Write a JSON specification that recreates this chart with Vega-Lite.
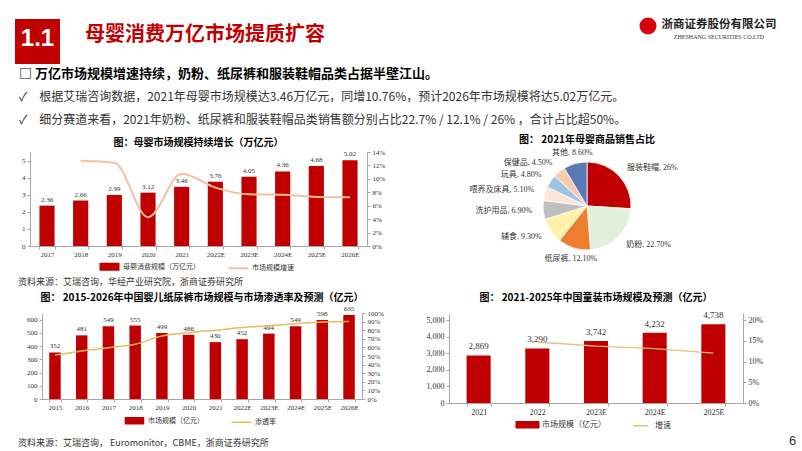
{
  "$schema": "https://vega.github.io/schema/vega-lite/v6.json",
  "padding": {"left": 15, "top": 17, "right": 5, "bottom": 0},
  "background": "white",
  "config": {
    "view": {"stroke": null},
    "font": "Noto Sans CJK SC",
    "title": {"font": "Noto Sans CJK SC", "fontSize": 10, "fontWeight": "bold", "color": "#000000", "offset": 2},
    "axis": {"labelFont": "Liberation Serif", "labelFontSize": 7, "labelColor": "#333333", "domainColor": "#A6A6A6", "tickColor": "#A6A6A6", "tickSize": 3, "grid": false, "labelPadding": 2},
    "axisX": {"labelAngle": 0, "tickBand": "extent", "labelPadding": 1},
    "axisY": {"labelOverlap": false},
    "legend": {"labelFont": "Noto Sans CJK SC", "labelFontSize": 7, "labelColor": "#333333", "orient": "bottom", "direction": "horizontal", "layout": {"bottom": {"anchor": "middle"}}},
    "text": {"font": "Liberation Serif"}
  },
  "resolve": {"scale": {"color": "independent"}, "legend": {"color": "independent"}},
  "columns": 1,
  "spacing": 4,
  "concat": [
    {
      "columns": 5,
      "spacing": 0,
      "concat": [
        {
          "width": 45, "height": 45,
          "data": {"values": [{"t": "1.1"}]},
          "layer": [
            {"mark": {"type": "rect", "color": "#C00000"}, "encoding": {}},
            {"mark": {"type": "text", "color": "#ffffff", "font": "Liberation Sans", "fontSize": 24, "fontWeight": "bold", "dy": -3}, "encoding": {"text": {"field": "t"}}}
          ]
        },
        {
          "width": 290, "height": 45,
          "data": {"values": [{"t": "母婴消费万亿市场提质扩容"}]},
          "mark": {"type": "text", "color": "#C00000", "font": "Noto Sans CJK SC", "fontSize": 20, "fontWeight": "bold", "dy": -7},
          "encoding": {"text": {"field": "t"}}
        },
        {
          "width": 289, "height": 1,
          "data": {"values": []},
          "mark": "text",
          "encoding": {}
        },
        {
          "width": 18, "height": 14,
          "data": {"values": [{"t": "logo"}]},
          "mark": {"type": "point", "filled": true, "color": "#D7000F", "size": 289, "opacity": 1},
          "encoding": {}
        },
        {
          "width": 124, "height": 24,
          "data": {"values": [{"t": "浙商证券股份有限公司", "k": "a"}, {"t": "ZHESHANG SECURITIES CO.LTD", "k": "b"}]},
          "encoding": {"y": {"field": "k", "type": "nominal", "axis": null}, "text": {"field": "t"}},
          "layer": [
            {"transform": [{"filter": "datum.k === 'a'"}], "mark": {"type": "text", "font": "Noto Sans CJK SC", "fontSize": 11.5, "fontWeight": "bold", "color": "#222222"}},
            {"transform": [{"filter": "datum.k === 'b'"}], "mark": {"type": "text", "font": "Liberation Serif", "fontSize": 6, "color": "#333333"}}
          ]
        }
      ]
    },
    {
      "width": 1, "height": 1,
      "data": {"values": []},
      "mark": "text",
      "encoding": {},
      "title": {
        "text": "□ 万亿市场规模增速持续，奶粉、纸尿裤和服装鞋帽品类占据半壁江山。",
        "subtitle": ["✓　根据艾瑞咨询数据，2021年母婴市场规模达3.46万亿元，同增10.76%，预计2026年市场规模将达5.02万亿元。", "✓　细分赛道来看，2021年奶粉、纸尿裤和服装鞋帽品类销售额分别占比22.7% / 12.1% / 26% ，合计占比超50%。"],
        "anchor": "start", "fontSize": 13, "fontWeight": "bold", "color": "#000000",
        "subtitleFont": "Noto Sans CJK SC", "subtitleFontSize": 12, "subtitleColor": "#333333",
        "subtitlePadding": 11, "subtitleLineHeight": 23, "offset": 3, "dx": 4
      }
    },
    {
      "columns": 3,
      "spacing": 3,
      "resolve": {"scale": {"color": "independent"}, "legend": {"color": "independent"}},
      "concat": [
        {
          "width": 1, "height": 1,
          "data": {"values": []},
          "mark": "text",
          "encoding": {}
        },
        {
          "width": 337, "height": 94,
          "title": {"text": "图：母婴市场规模持续增长（万亿元）", "offset": 0},
          "data": {"values": [
            {"year": "2017", "size": 2.36, "growth": null},
            {"year": "2018", "size": 2.66, "growth": 0.127},
            {"year": "2019", "size": 2.99, "growth": 0.124},
            {"year": "2020", "size": 3.12, "growth": 0.043},
            {"year": "2021", "size": 3.46, "growth": 0.1076},
            {"year": "2022E", "size": 3.76, "growth": 0.087},
            {"year": "2023E", "size": 4.05, "growth": 0.077},
            {"year": "2024E", "size": 4.36, "growth": 0.0765},
            {"year": "2025E", "size": 4.68, "growth": 0.073},
            {"year": "2026E", "size": 5.02, "growth": 0.0726}
          ]},
          "encoding": {"x": {"field": "year", "type": "ordinal", "sort": null, "title": null, "scale": {"paddingInner": 0.55, "paddingOuter": 0.28}}},
          "layer": [
            {
              "encoding": {"y": {"field": "size", "type": "quantitative", "title": null, "scale": {"domain": [0, 5.5], "nice": false}, "axis": {"values": [0, 1, 2, 3, 4, 5], "minExtent": 11, "maxExtent": 11}}},
              "layer": [
                {
                  "mark": {"type": "bar"},
                  "encoding": {"color": {"datum": "母婴消费规模（万亿元）", "type": "nominal",
                    "scale": {"domain": ["母婴消费规模（万亿元）", "市场规模增速"], "range": ["#C00000", "#F6BFA0"]},
                    "legend": {"title": null, "offset": 4, "symbolSize": 81, "columnPadding": 24, "labelOffset": 8,
                      "encode": {"symbols": {"update": {
                        "shape": {"signal": "datum.value === '市场规模增速' ? 'M-2.2,0H2.2' : 'M-2,-0.66H2V0.66H-2Z'"},
                        "fill": {"signal": "datum.value === '市场规模增速' ? 'transparent' : '#C00000'"},
                        "stroke": {"signal": "datum.value === '市场规模增速' ? '#F6BFA0' : 'transparent'"},
                        "strokeWidth": {"value": 2}, "opacity": {"value": 1}}}}}}}
                },
                {
                  "mark": {"type": "text", "baseline": "bottom", "dy": -3, "fontSize": 7, "font": "Liberation Serif", "color": "#333333"},
                  "encoding": {"text": {"field": "size", "type": "quantitative", "format": ".2f"}}
                }
              ]
            },
            {
              "mark": {"type": "line", "interpolate": "monotone", "strokeWidth": 2},
              "encoding": {
                "y": {"field": "growth", "type": "quantitative", "title": null, "scale": {"domain": [0, 0.14], "nice": false}, "axis": {"orient": "right", "format": ".0%", "values": [0, 0.02, 0.04, 0.06, 0.08, 0.1, 0.12, 0.14], "minExtent": 26, "maxExtent": 26}},
                "color": {"datum": "市场规模增速", "type": "nominal"}
              }
            }
          ],
          "resolve": {"scale": {"y": "independent"}}
        },
        {
          "width": 382, "height": 108,
          "title": {"text": "图： 2021年母婴商品销售占比", "offset": 4},
          "data": {"values": [
            {"cat": "服装鞋帽", "pct": 26, "label": "服装鞋帽, 26%", "order": 1},
            {"cat": "奶粉", "pct": 22.7, "label": "奶粉, 22.70%", "order": 2},
            {"cat": "纸尿裤", "pct": 12.1, "label": "纸尿裤, 12.10%", "order": 3},
            {"cat": "辅食", "pct": 9.3, "label": "辅食, 9.30%", "order": 4},
            {"cat": "洗护用品", "pct": 6.9, "label": "洗护用品, 6.90%", "order": 5},
            {"cat": "喂养及床具", "pct": 5.1, "label": "喂养及床具, 5.10%", "order": 6},
            {"cat": "玩具", "pct": 4.8, "label": "玩具, 4.80%", "order": 7},
            {"cat": "保健品", "pct": 4.5, "label": "保健品, 4.50%", "order": 8},
            {"cat": "其他", "pct": 8.6, "label": "其他, 8.60%", "order": 9}
          ]},
          "encoding": {
            "theta": {"field": "pct", "type": "quantitative", "stack": true},
            "order": {"field": "order", "type": "quantitative"}
          },
          "layer": [
            {
              "mark": {"type": "arc", "outerRadius": 44, "stroke": "#ffffff", "strokeWidth": 0.8},
              "encoding": {"color": {"field": "cat", "type": "nominal", "legend": null,
                "scale": {"domain": ["服装鞋帽", "奶粉", "纸尿裤", "辅食", "洗护用品", "喂养及床具", "玩具", "保健品", "其他"],
                  "range": ["#C00000", "#E2EFDA", "#ED7D31", "#FFF2A8", "#BFBFBF", "#FBE5D6", "#9DC3E6", "#F8CBAD", "#5A78B6"]}}}
            },
            {
              "mark": {"type": "text", "radius": 55, "fontSize": 8, "font": "Liberation Serif, Noto Sans CJK SC", "color": "#333333", "baseline": "middle",
                "align": {"expr": "indexof(['服装鞋帽','奶粉'], datum.cat) >= 0 ? 'left' : (indexof(['纸尿裤','其他'], datum.cat) >= 0 ? 'center' : 'right')"}},
              "encoding": {"text": {"field": "label"}, "detail": {"field": "cat"}}
            }
          ]
        }
      ]
    },
    {
      "width": 1, "height": 1,
      "data": {"values": []},
      "mark": "text",
      "encoding": {},
      "title": {"text": "资料来源：艾瑞咨询，华经产业研究院，浙商证券研究所", "anchor": "start", "fontSize": 9, "fontWeight": "normal", "color": "#333333", "offset": 0, "dx": 3}
    },
    {
      "columns": 3,
      "spacing": 1,
      "resolve": {"scale": {"color": "independent"}, "legend": {"color": "independent"}},
      "concat": [
        {
          "width": 1, "height": 1,
          "data": {"values": []},
          "mark": "text",
          "encoding": {}
        },
        {
          "width": 320, "height": 86,
          "title": {"text": "图： 2015-2026年中国婴儿纸尿裤市场规模与市场渗透率及预测（亿元）", "offset": 2},
          "data": {"values": [
            {"year": "2015", "size": 352, "pen": 0.51},
            {"year": "2016", "size": 481, "pen": 0.558},
            {"year": "2017", "size": 549, "pen": 0.597},
            {"year": "2018", "size": 555, "pen": 0.636},
            {"year": "2019", "size": 499, "pen": 0.733},
            {"year": "2020", "size": 486, "pen": 0.772},
            {"year": "2021", "size": 430, "pen": 0.80},
            {"year": "2022E", "size": 452, "pen": 0.83},
            {"year": "2023E", "size": 494, "pen": 0.853},
            {"year": "2024E", "size": 549, "pen": 0.876},
            {"year": "2025E", "size": 598, "pen": 0.895},
            {"year": "2026E", "size": 635, "pen": 0.90}
          ]},
          "encoding": {"x": {"field": "year", "type": "ordinal", "sort": null, "title": null, "scale": {"paddingInner": 0.57, "paddingOuter": 0.27}}},
          "layer": [
            {
              "encoding": {"y": {"field": "size", "type": "quantitative", "title": null, "scale": {"domain": [0, 650], "nice": false}, "axis": {"values": [0, 100, 200, 300, 400, 500, 600], "minExtent": 25, "maxExtent": 25}}},
              "layer": [
                {
                  "mark": {"type": "bar"},
                  "encoding": {"color": {"datum": "市场规模（亿元）", "type": "nominal",
                    "scale": {"domain": ["市场规模（亿元）", "渗透率"], "range": ["#C00000", "#EDB95E"]},
                    "legend": {"title": null, "offset": 5, "symbolSize": 81, "columnPadding": 24, "labelOffset": 8,
                      "encode": {"symbols": {"update": {
                        "shape": {"signal": "datum.value === '渗透率' ? 'M-2.2,0H2.2' : 'M-2,-0.66H2V0.66H-2Z'"},
                        "fill": {"signal": "datum.value === '渗透率' ? 'transparent' : '#C00000'"},
                        "stroke": {"signal": "datum.value === '渗透率' ? '#EDB95E' : 'transparent'"},
                        "strokeWidth": {"value": 1.5}, "opacity": {"value": 1}}}}}}}
                },
                {
                  "mark": {"type": "text", "baseline": "bottom", "dy": -3, "fontSize": 7, "font": "Liberation Serif", "color": "#333333"},
                  "encoding": {"text": {"field": "size", "type": "quantitative"}}
                }
              ]
            },
            {
              "mark": {"type": "line", "interpolate": "monotone", "strokeWidth": 1.5},
              "encoding": {
                "y": {"field": "pen", "type": "quantitative", "title": null, "scale": {"domain": [0, 1], "nice": false}, "axis": {"orient": "right", "format": ".0%", "values": [0, 0.1, 0.2, 0.3, 0.4, 0.5, 0.6, 0.7, 0.8, 0.9, 1], "minExtent": 28, "maxExtent": 28}},
                "color": {"datum": "渗透率", "type": "nominal"}
              }
            }
          ],
          "resolve": {"scale": {"y": "independent"}}
        },
        {
          "width": 294, "height": 90,
          "title": {"text": "图： 2021-2025年中国童装市场规模及预测（亿元）", "offset": 8},
          "data": {"values": [
            {"year": "2021", "size": 2869, "growth": null},
            {"year": "2022", "size": 3290, "growth": 0.147},
            {"year": "2023E", "size": 3742, "growth": 0.137},
            {"year": "2024E", "size": 4232, "growth": 0.131},
            {"year": "2025E", "size": 4738, "growth": 0.12}
          ]},
          "encoding": {"x": {"field": "year", "type": "ordinal", "sort": null, "title": null, "scale": {"paddingInner": 0.59, "paddingOuter": 0.3}, "axis": {"labelFontSize": 8, "labelPadding": 2}}},
          "layer": [
            {
              "encoding": {"y": {"field": "size", "type": "quantitative", "title": null, "scale": {"domain": [0, 5422], "nice": false}, "axis": {"values": [0, 1000, 2000, 3000, 4000, 5000], "format": ",.0f", "labelFontSize": 8, "minExtent": 58, "maxExtent": 58}}},
              "layer": [
                {
                  "mark": {"type": "bar"},
                  "encoding": {"color": {"datum": "市场规模（亿元）", "type": "nominal",
                    "scale": {"domain": ["市场规模（亿元）", "增速"], "range": ["#C00000", "#E5C07B"]},
                    "legend": {"title": null, "offset": 3, "symbolSize": 81, "columnPadding": 24, "labelOffset": 9, "labelFontSize": 8,
                      "encode": {"symbols": {"update": {
                        "shape": {"signal": "datum.value === '增速' ? 'M-1.6,0H1.6' : 'M-2.5,-0.66H2.5V0.66H-2.5Z'"},
                        "fill": {"signal": "datum.value === '增速' ? 'transparent' : '#C00000'"},
                        "stroke": {"signal": "datum.value === '增速' ? '#E5C07B' : 'transparent'"},
                        "strokeWidth": {"value": 1.5}, "opacity": {"value": 1}}}}}}}
                },
                {
                  "mark": {"type": "text", "baseline": "bottom", "dy": -4, "fontSize": 9, "font": "Liberation Serif", "color": "#333333"},
                  "encoding": {"text": {"field": "size", "type": "quantitative", "format": ",.0f"}}
                }
              ]
            },
            {
              "mark": {"type": "line", "strokeWidth": 1.3},
              "encoding": {
                "y": {"field": "growth", "type": "quantitative", "title": null, "scale": {"domain": [0, 0.2169], "nice": false}, "axis": {"orient": "right", "format": ".0%", "values": [0, 0.05, 0.1, 0.15, 0.2], "labelFontSize": 8, "minExtent": 30, "maxExtent": 30}},
                "color": {"datum": "增速", "type": "nominal"}
              }
            }
          ],
          "resolve": {"scale": {"y": "independent"}}
        }
      ]
    },
    {
      "columns": 2,
      "spacing": 520,
      "concat": [
        {
          "width": 1, "height": 1,
          "data": {"values": []},
          "mark": "text",
          "encoding": {},
          "title": {"text": "资料来源：艾瑞咨询， Euromonitor，CBME，浙商证券研究所", "anchor": "start", "fontSize": 9, "fontWeight": "normal", "color": "#333333", "dx": 3, "offset": 0}
        },
        {
          "width": 1, "height": 1,
          "data": {"values": []},
          "mark": "text",
          "encoding": {},
          "title": {"text": "6", "anchor": "start", "fontSize": 13, "fontWeight": "normal", "font": "Liberation Sans", "color": "#333333", "offset": 0}
        }
      ]
    }
  ]
}
